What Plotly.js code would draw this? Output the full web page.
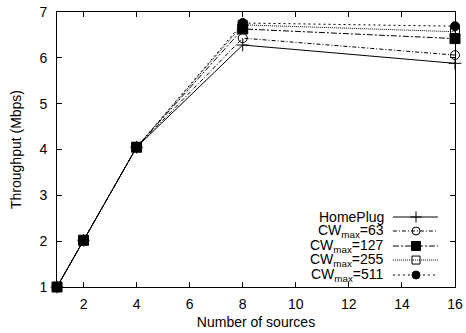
<!DOCTYPE html>
<html>
<head>
<meta charset="utf-8">
<script src="https://cdn.plot.ly/plotly-3.0.1.min.js"></script>
<style>html,body{margin:0;padding:0;background:#fff;}#chart{width:466px;height:333px;}</style>
</head>
<body>
<div id="chart"></div>
<script>
// ---- data ----
var sources = [1, 2, 4, 8, 16];
var homeplug = [1.0, 2.02, 4.05, 6.28, 5.88];
var cw63 = [1.0, 2.02, 4.05, 6.43, 6.06];
var cw127 = [1.0, 2.02, 4.05, 6.63, 6.42];
var cw255 = [1.0, 2.02, 4.05, 6.72, 6.57];
var cw511 = [1.0, 2.02, 4.05, 6.76, 6.69];
var seriesNames = ['HomePlug', 'CW<sub>max</sub>=63', 'CW<sub>max</sub>=127', 'CW<sub>max</sub>=255', 'CW<sub>max</sub>=511'];
var xTicks = [2, 4, 6, 8, 10, 12, 14, 16];
var yTicks = [1, 2, 3, 4, 5, 6, 7];

// ---- styles ----
var styles = [
  {dash: 'solid', symbol: 'cross-thin-open', size: 9},
  {dash: '4px,2px,1px,2px', symbol: 'circle-open', size: 9},
  {dash: '6px,2px,2px,2px', symbol: 'square', size: 10},
  {dash: '1px,1px', symbol: 'square-open', size: 9},
  {dash: '2px,3px', symbol: 'circle', size: 9}
];
var allY = [homeplug, cw63, cw127, cw255, cw511];

var traces = [];
for (var i = 0; i < allY.length; i++) {
  traces.push({
    x: sources, y: allY[i], type: 'scatter', mode: 'lines+markers',
    name: seriesNames[i], showlegend: false, cliponaxis: false,
    line: {color: '#000', width: 1, dash: styles[i].dash},
    marker: {color: '#000', symbol: styles[i].symbol, size: styles[i].size,
             line: {color: '#000', width: 1}}
  });
}

// custom legend (symbols on the right, gnuplot style) on an overlay axis
var legRows = [0.2545, 0.2036, 0.149, 0.098, 0.0436];
var legX0 = 0.844, legX1 = 0.957, legXm = 0.902, legTextX = 0.826;
var annotations = [];
for (var i = 0; i < allY.length; i++) {
  traces.push({
    x: [legX0, legX1], y: [legRows[i], legRows[i]], xaxis: 'x2', yaxis: 'y2',
    type: 'scatter', mode: 'lines', showlegend: false, hoverinfo: 'skip',
    line: {color: '#000', width: 1, dash: styles[i].dash}
  });
  traces.push({
    x: [legXm], y: [legRows[i]], xaxis: 'x2', yaxis: 'y2',
    type: 'scatter', mode: 'markers', showlegend: false, hoverinfo: 'skip',
    marker: {color: '#000', symbol: styles[i].symbol, size: styles[i].size - 1,
             line: {color: '#000', width: 1}}
  });
  annotations.push({
    xref: 'paper', yref: 'paper', x: legTextX, y: legRows[i],
    xanchor: 'right', yanchor: 'middle', showarrow: false,
    text: seriesNames[i], font: {size: 14, color: '#000'}
  });
}

var layout = {
  width: 466, height: 333,
  margin: {l: 57, r: 11, t: 12, b: 46},
  paper_bgcolor: '#fff', plot_bgcolor: '#fff',
  font: {family: 'Liberation Sans, Arial, sans-serif', size: 14, color: '#000'},
  showlegend: false,
  xaxis: {
    range: [1, 16], tickvals: xTicks, ticks: 'inside', ticklen: 5, tickwidth: 1,
    tickcolor: '#000', showline: true, linecolor: '#000', linewidth: 1,
    mirror: 'allticks', showgrid: false, zeroline: false, ticklabelstandoff: 4,
    title: {text: 'Number of sources', standoff: 6, font: {size: 14}}
  },
  yaxis: {
    range: [1, 7], tickvals: yTicks, ticks: 'inside', ticklen: 5, tickwidth: 1,
    tickcolor: '#000', showline: true, linecolor: '#000', linewidth: 1,
    mirror: 'allticks', showgrid: false, zeroline: false, ticklabelstandoff: 6,
    title: {text: 'Throughput (Mbps)', standoff: 14, font: {size: 14}}
  },
  xaxis2: {overlaying: 'x', range: [0, 1], visible: false, anchor: 'y2'},
  yaxis2: {overlaying: 'y', range: [0, 1], visible: false, anchor: 'x2'},
  annotations: annotations
};

Plotly.newPlot('chart', traces, layout, {displayModeBar: false, staticPlot: true});
</script>
</body>
</html>
